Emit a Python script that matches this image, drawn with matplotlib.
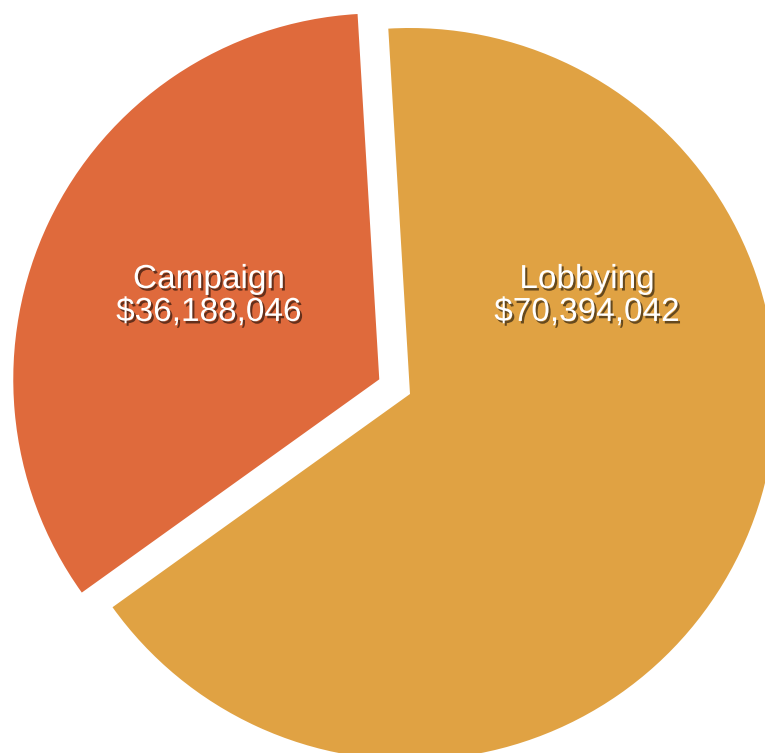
import matplotlib
matplotlib.use('Agg')
from matplotlib import pyplot as plt
import matplotlib.patheffects as pe

# two slices, campaign one pulled out a bit
labels = ["Campaign", "Lobbying"]
amounts = [36188046, 70394042]
colors = ["#DF6A3C", "#E0A243"]
explode = [0.093, 0.0]

fig = plt.figure(figsize=(7.65, 7.53), dpi=100)
ax = fig.add_axes([0, 0, 1, 1])
ax.axis('off')

wedges, _ = ax.pie(amounts, colors=colors, explode=explode, startangle=93.4,
                   counterclock=True, radius=1.0,
                   wedgeprops=dict(linewidth=0))

# picture is cropped: center sits at pixel (410, 393), radius ~366 px
scale = 366.0
cx, cy = 410.0, 394.0
ax.set_xlim(-cx / scale, (765 - cx) / scale)
ax.set_ylim(-(753 - cy) / scale, cy / scale)

# label spots (pixels in the original picture)
label_px = [(209, 296), (587, 296)]
shadow = [pe.withSimplePatchShadow(offset=(1.5, -1.8), shadow_rgbFace='black', alpha=0.55)]
for name, amt, (px, py) in zip(labels, amounts, label_px):
    ax.text((px - cx) / scale, (cy - py) / scale, "{}\n${:,}".format(name, amt),
            ha='center', va='center', color='white', fontsize=24,
            family='Liberation Sans', linespacing=1.08, path_effects=shadow)

fig.savefig('out.png', dpi=100)
